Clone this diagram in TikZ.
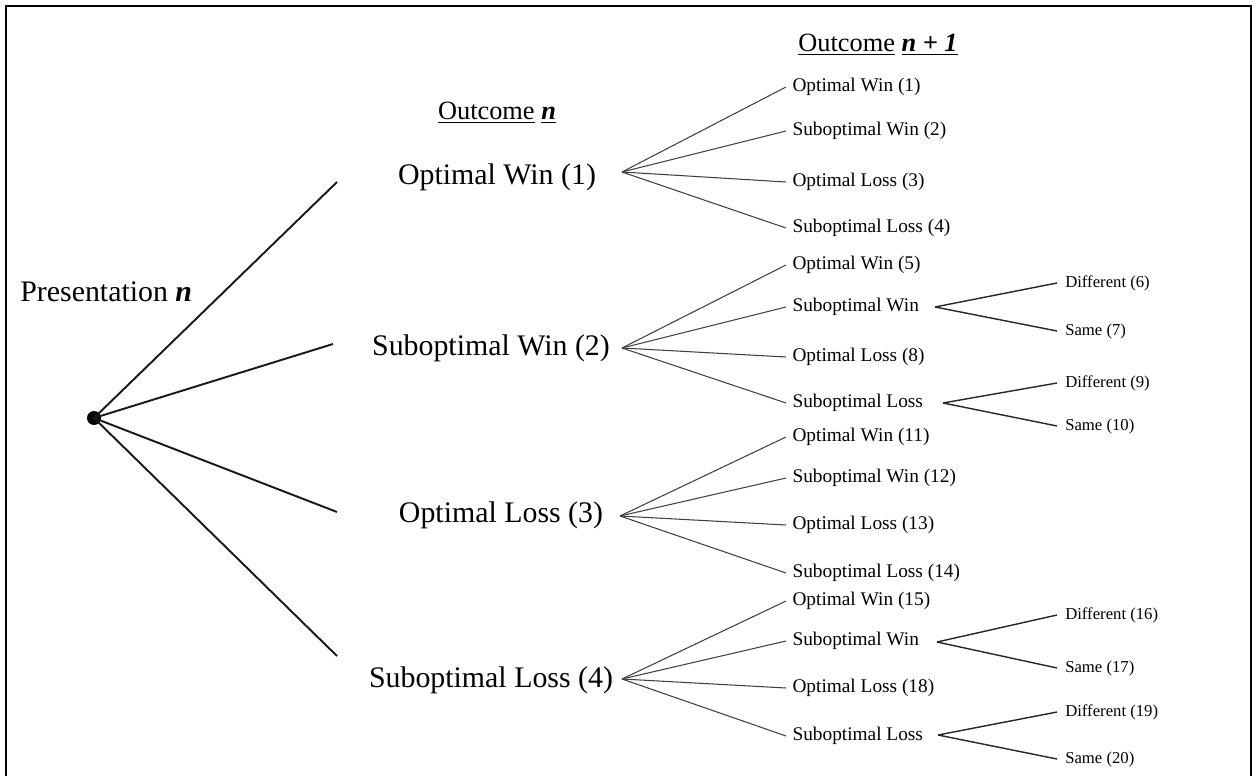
\documentclass[tikz,border=0pt]{standalone}
\usepackage{fontspec}
\setmainfont{Liberation Serif}
\newcommand{\bn}{\textbf{\textit{n}}}

\begin{document}
\begin{tikzpicture}[x=0.02cm,y=-0.02cm,
	stufeeins/.style={font=\fontsize{17}{20}\selectfont,inner sep=0pt},
	kopf/.style={font=\fontsize{15}{18}\selectfont,inner sep=0pt},
	stufezwei/.style={font=\fontsize{11}{13}\selectfont,anchor=west,inner xsep=3.5pt,inner ysep=0pt},
	stufedrei/.style={font=\fontsize{9.5}{11}\selectfont,anchor=west,inner xsep=4.5pt,inner ysep=0pt},
	kanteeins/.style={line width=1.1pt,color=black!90},
	kantezwei/.style={line width=0.6pt,color=black!75},
	kantedrei/.style={line width=0.8pt,color=black!85}]

\useasboundingbox (0,0) rectangle (1256,776);
\draw[line width=1pt] (6,776) -- (6,6) -- (1251,6) -- (1251,776);

\node[anchor=west,inner sep=0pt,font=\fontsize{17}{20}\selectfont] (praes) at (20,292) {Presentation \bn};
\node[circle,fill=black,inner sep=0pt,minimum size=0.28cm] (wurzel) at (94,418) {};

\node[kopf] (kopfa) at (497,113) {\underline{Outcome}\ \underline{\bn}};
\node[kopf] (kopfb) at (878,45) {\underline{Outcome}\ \underline{\textbf{\textit{n + 1}}}};

\node[stufeeins] (ow) at (497,177) {Optimal Win (1)};
\node[stufeeins] (sw) at (491,348) {Suboptimal Win (2)};
\node[stufeeins] (ol) at (501,515) {Optimal Loss (3)};
\node[stufeeins] (sl) at (491,680) {Suboptimal Loss (4)};

\coordinate (ea) at (337,182);
\coordinate (eb) at (333,344);
\coordinate (ec) at (337,512);
\coordinate (ed) at (337,656);
\draw[kanteeins] (wurzel.center) -- (ea);
\draw[kanteeins] (wurzel.center) -- (eb);
\draw[kanteeins] (wurzel.center) -- (ec);
\draw[kanteeins] (wurzel.center) -- (ed);

\coordinate (ga) at (622,172);
\coordinate (gb) at (622,348);
\coordinate (gc) at (620,516);
\coordinate (gd) at (622,679);

\def\blatt#1#2#3#4{
	\node[stufezwei] (#2) at (786,#3) {#4};
	\draw[kantezwei] (#1) -- (#2.west);
}
\def\blattdrei#1#2#3#4{
	\node[stufedrei] (#2) at (1057,#3) {#4};
	\draw[kantedrei] (#1) -- (#2.west);
}

\blatt{ga}{a1}{87}{Optimal Win (1)}
\blatt{ga}{a2}{131}{Suboptimal Win (2)}
\blatt{ga}{a3}{182}{Optimal Loss (3)}
\blatt{ga}{a4}{228}{Suboptimal Loss (4)}

\blatt{gb}{b1}{265}{Optimal Win (5)}
\blatt{gb}{b2}{307}{Suboptimal Win}
\blatt{gb}{b3}{357}{Optimal Loss (8)}
\blatt{gb}{b4}{403}{Suboptimal Loss}

\blatt{gc}{c1}{437}{Optimal Win (11)}
\blatt{gc}{c2}{478}{Suboptimal Win (12)}
\blatt{gc}{c3}{525}{Optimal Loss (13)}
\blatt{gc}{c4}{573}{Suboptimal Loss (14)}

\blatt{gd}{d1}{601}{Optimal Win (15)}
\blatt{gd}{d2}{641}{Suboptimal Win}
\blatt{gd}{d3}{688}{Optimal Loss (18)}
\blatt{gd}{d4}{736}{Suboptimal Loss}

\coordinate (hb2) at (935,307);
\coordinate (hb4) at (943,403);
\coordinate (hd2) at (937,642);
\coordinate (hd4) at (938,735);

\blattdrei{hb2}{b21}{283}{Different (6)}
\blattdrei{hb2}{b22}{331}{Same (7)}
\blattdrei{hb4}{b41}{383}{Different (9)}
\blattdrei{hb4}{b42}{426}{Same (10)}
\blattdrei{hd2}{d21}{615}{Different (16)}
\blattdrei{hd2}{d22}{668}{Same (17)}
\blattdrei{hd4}{d41}{712}{Different (19)}
\blattdrei{hd4}{d42}{759}{Same (20)}

\end{tikzpicture}
\end{document}
